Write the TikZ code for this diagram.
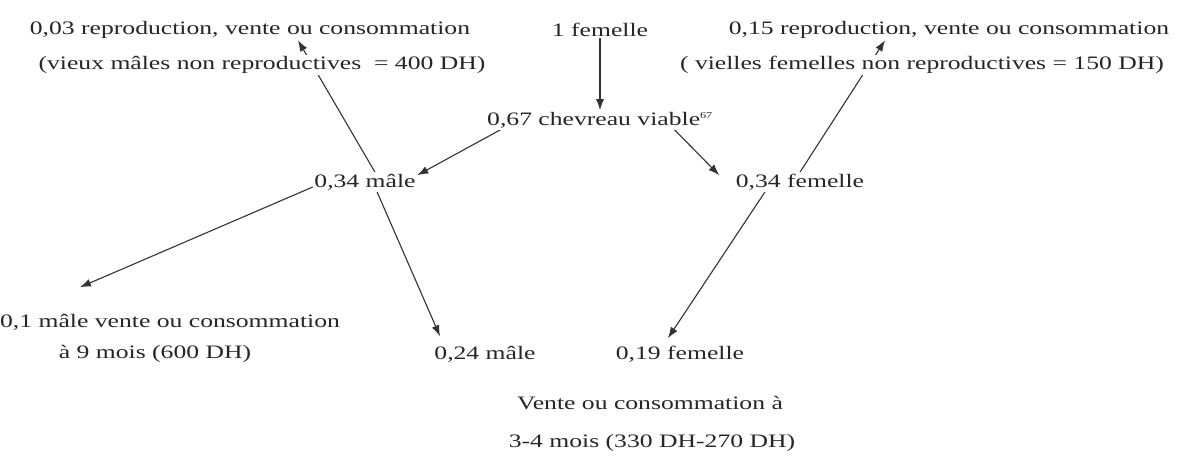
\documentclass[tikz,border=0pt]{standalone}
\usepackage{fontspec}
\setmainfont{Liberation Serif}[FakeStretch=1.35]
\usetikzlibrary{arrows.meta,backgrounds}
\tikzset{lbl/.style={inner sep=1.5pt,fill=white,text=black!85,font=\fontsize{19}{22}\selectfont},
  arr/.style={-{Latex[length=11pt,width=8pt]},line width=1.1pt,draw=black!80}}

\begin{document}
\begin{tikzpicture}[x=1pt,y=-1pt]
\useasboundingbox (0,0) rectangle (1196,470);
% top row
\node[lbl] (t03a) at (250,30) {0,03 reproduction, vente ou consommation};
\node[lbl] (t03b) at (262,65) {(vieux mâles non reproductives~ = 400 DH)};
\node[lbl] (fem) at (600,30) {1 femelle};
\node[lbl] (t15a) at (949,30) {0,15 reproduction, vente ou consommation};
\node[lbl] (t15b) at (922,65) {( vielles femelles non reproductives = 150 DH)};
% middle
\node[lbl] (chev) at (600,120) {0,67 chevreau viable\textsuperscript{\small 67}};
\node[lbl] (m34) at (365,182) {0,34 mâle};
\node[lbl] (f34) at (800,182) {0,34 femelle};
% bottom
\node[lbl] (m1a) at (170,322) {0,1 mâle vente ou consommation};
\node[lbl] (m1b) at (155,354) {à 9 mois (600 DH)};
\node[lbl] (m24) at (485,354) {0,24 mâle};
\node[lbl] (f19) at (680,354) {0,19 femelle};
\node[lbl] (vca) at (650,403) {Vente ou consommation à};
\node[lbl] (vcb) at (652,443) {3-4 mois (330 DH-270 DH)};
\begin{scope}[on background layer]
\draw[arr] (fem) -- (chev);
\draw[arr] ([xshift=15pt]chev.south west) -- ([yshift=-3pt]m34.north east);
\draw[arr] ([xshift=-40pt]chev.south east) -- ([xshift=-15pt,yshift=-3pt]f34.north west);
\draw[arr] ([xshift=10pt]m34.north) -- ([xshift=48pt]t03a.south);
\draw[arr] (f34.north) -- ([xshift=-64pt]t15a.south);
\draw[arr] ([yshift=-5pt]m34.west) -- ([xshift=-90pt,yshift=25pt]m1a.north);
\draw[arr] ([xshift=12pt]m34.south) -- ([xshift=-45pt,yshift=8pt]m24.north);
\draw[arr] ([xshift=-35pt]f34.south) -- ([xshift=-12pt,yshift=6pt]f19.north);
\end{scope}
\end{tikzpicture}
\end{document}
